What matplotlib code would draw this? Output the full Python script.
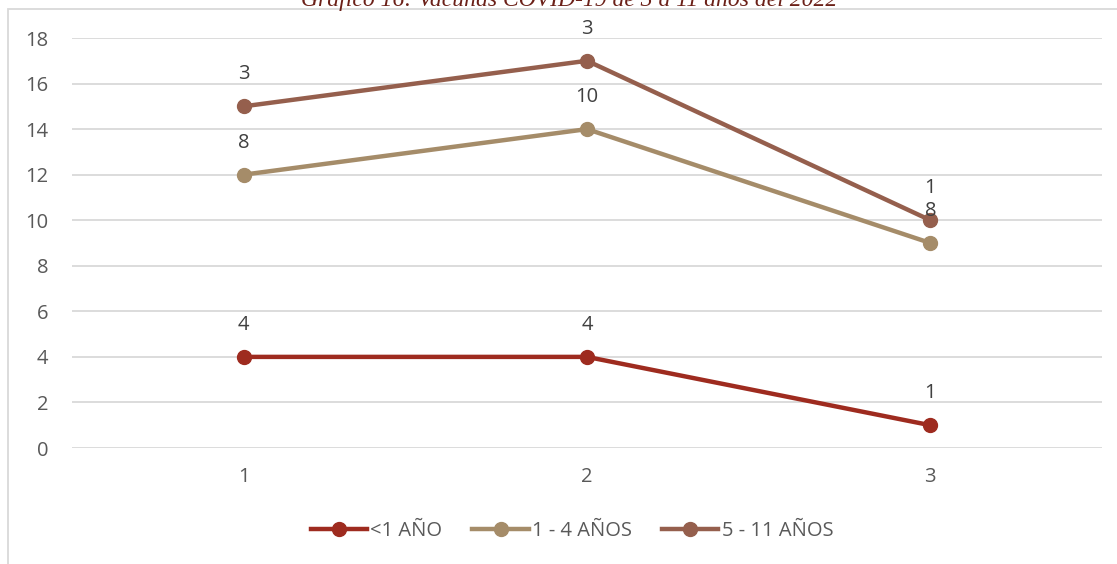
import numpy as np
import matplotlib
matplotlib.use('Agg')
import matplotlib.pyplot as plt
from matplotlib.patches import Rectangle
from matplotlib.lines import Line2D

# datos del grafico (valores individuales, la grafica es de lineas apiladas)
categorias = [1, 2, 3]
series = ['<1 AÑO', '1 - 4 AÑOS', '5 - 11 AÑOS']
menor_1 = [4, 4, 1]
de_1_a_4 = [8, 10, 8]
de_5_a_11 = [3, 3, 1]
colores = ['#9E2B1F', '#A58C69', '#955F4D']
titulo = 'Gráfico 16: Vacunas COVID-19 de 3 a 11 años del 2022'

plt.rcParams['font.family'] = ['Open Sans', 'DejaVu Sans']

W, H = 1117, 564
fig = plt.figure(figsize=(W / 100, H / 100), dpi=100)

# marco del area del grafico
fig.patches.append(Rectangle((8 / W, -0.1), 1.2, 1.1 - 9 / H, transform=fig.transFigure,
                             fill=False, edgecolor='#D9D9D9', linewidth=1.3))

# titulo (cortado por arriba como en la imagen)
fig.text(569 / W, 1 - 6 / H, titulo, ha='center', va='baseline', fontsize=17,
         style='italic', family=['Liberation Serif', 'DejaVu Serif'], color='#6B2018')

ax = fig.add_axes([72 / W, 1 - 448 / H, (1102 - 72) / W, (448 - 38) / H])

valores = [menor_1, de_1_a_4, de_5_a_11]
acumulado = np.zeros(len(categorias))
for nombre, vals, col in zip(series, valores, colores):
    acumulado = acumulado + np.array(vals)
    ax.plot(categorias, acumulado, color=col, linewidth=3.2, marker='o', markersize=10,
            solid_capstyle='round', label=nombre, zorder=3)
    for x, y, v in zip(categorias, acumulado, vals):
        ax.annotate(str(v), (x, y), xytext=(0, 23), textcoords='offset points',
                    ha='center', va='center', fontsize=14.5, color='#404040', zorder=4)

ax.set_xlim(0.5, 3.5)
ax.set_ylim(0, 18)
ax.set_yticks(range(0, 19, 2))
ax.set_xticks(categorias)
ax.grid(axis='y', color='#D9D9D9', linewidth=1.3)
ax.set_axisbelow(True)
for s in ax.spines.values():
    s.set_visible(False)
ax.tick_params(axis='both', length=0, labelsize=14.5, labelcolor='#595959')
ax.tick_params(axis='y', pad=17)
ax.tick_params(axis='x', pad=14)

handles = [Line2D([], [], color=c, linewidth=3.2, marker='o', markersize=10) for c in colores]
fig.legend(handles, series, loc='center', bbox_to_anchor=(572 / W, 1 - 531 / H), ncol=3,
           frameon=False, fontsize=14.5, handlelength=2.8, handletextpad=0.15,
           columnspacing=1.5, labelcolor='#595959')

fig.savefig('out.png', dpi=100)
